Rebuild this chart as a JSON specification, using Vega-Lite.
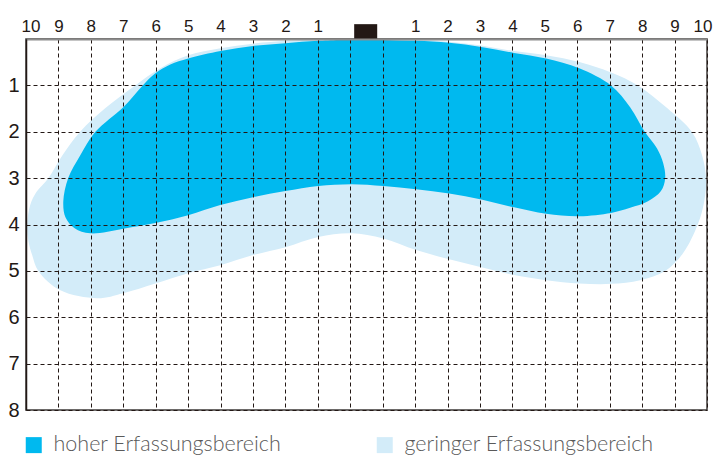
{
  "$schema": "https://vega.github.io/schema/vega-lite/v6.json",
  "width": 681,
  "height": 371,
  "autosize": "none",
  "padding": {"left": 26, "top": 39, "right": 6, "bottom": 46},
  "background": "white",
  "datasets": {
    "gering": [
      {"i":1,"x":10.03,"y":0.0},{"i":2,"x":11.02,"y":0.0},{"i":3,"x":12.03,"y":0.01},{"i":4,"x":13.05,"y":0.06},
      {"i":5,"x":14.04,"y":0.14},{"i":6,"x":15.05,"y":0.26},{"i":7,"x":16.04,"y":0.35},{"i":8,"x":17.09,"y":0.5},
      {"i":9,"x":18.04,"y":0.72},{"i":10,"x":18.87,"y":1.0},{"i":11,"x":19.77,"y":1.49},{"i":12,"x":20.54,"y":2.01},
      {"i":13,"x":20.85,"y":2.51},{"i":14,"x":20.97,"y":3.0},{"i":15,"x":20.92,"y":3.48},{"i":16,"x":20.72,"y":3.99},
      {"i":17,"x":20.26,"y":4.62},{"i":18,"x":19.71,"y":5.0},{"i":19,"x":18.94,"y":5.2},{"i":20,"x":18.04,"y":5.28},
      {"i":21,"x":17.06,"y":5.27},{"i":22,"x":16.04,"y":5.2},{"i":23,"x":15.05,"y":5.09},{"i":24,"x":14.04,"y":4.92},
      {"i":25,"x":13.05,"y":4.75},{"i":26,"x":12.03,"y":4.55},{"i":27,"x":11.02,"y":4.3},{"i":28,"x":10.03,"y":4.19},
      {"i":29,"x":9.01,"y":4.27},{"i":30,"x":8.0,"y":4.49},{"i":31,"x":7.0,"y":4.66},{"i":32,"x":5.99,"y":4.88},
      {"i":33,"x":5.0,"y":5.05},{"i":34,"x":3.99,"y":5.27},{"i":35,"x":3.0,"y":5.48},{"i":36,"x":2.2,"y":5.59},
      {"i":37,"x":1.06,"y":5.42},{"i":38,"x":0.38,"y":5.0},{"i":39,"x":0.19,"y":4.66},{"i":40,"x":0.07,"y":4.34},
      {"i":41,"x":0.04,"y":3.99},{"i":42,"x":0.13,"y":3.58},{"i":43,"x":0.32,"y":3.3},{"i":44,"x":0.69,"y":3.0},
      {"i":45,"x":1.12,"y":2.51},{"i":46,"x":1.67,"y":2.0},{"i":47,"x":2.45,"y":1.49},{"i":48,"x":3.37,"y":1.0},
      {"i":49,"x":4.14,"y":0.63},{"i":50,"x":5.0,"y":0.35},{"i":51,"x":6.0,"y":0.2},{"i":52,"x":7.0,"y":0.1},
      {"i":53,"x":8.06,"y":0.04},{"i":54,"x":9.01,"y":0.01},{"i":55,"x":10.03,"y":0.0}
    ],
    "hoch": [
      {"i":1,"x":10.03,"y":0.01},{"i":2,"x":11.02,"y":0.02},{"i":3,"x":12.03,"y":0.04},{"i":4,"x":13.05,"y":0.08},
      {"i":5,"x":14.04,"y":0.17},{"i":6,"x":15.05,"y":0.3},{"i":7,"x":16.04,"y":0.42},{"i":8,"x":17.06,"y":0.63},
      {"i":9,"x":18.04,"y":1.0},{"i":10,"x":18.63,"y":1.47},{"i":11,"x":19.09,"y":2.01},{"i":12,"x":19.46,"y":2.36},
      {"i":13,"x":19.65,"y":2.68},{"i":14,"x":19.71,"y":3.0},{"i":15,"x":19.58,"y":3.28},{"i":16,"x":19.18,"y":3.5},
      {"i":17,"x":18.63,"y":3.64},{"i":18,"x":18.04,"y":3.75},{"i":19,"x":17.06,"y":3.82},{"i":20,"x":16.04,"y":3.77},
      {"i":21,"x":15.05,"y":3.63},{"i":22,"x":14.04,"y":3.46},{"i":23,"x":13.05,"y":3.33},{"i":24,"x":12.03,"y":3.24},
      {"i":25,"x":11.02,"y":3.17},{"i":26,"x":10.03,"y":3.13},{"i":27,"x":9.01,"y":3.17},{"i":28,"x":8.0,"y":3.28},
      {"i":29,"x":7.0,"y":3.41},{"i":30,"x":5.99,"y":3.58},{"i":31,"x":5.0,"y":3.8},{"i":32,"x":3.99,"y":3.97},
      {"i":33,"x":3.0,"y":4.09},{"i":34,"x":1.98,"y":4.19},{"i":35,"x":1.5,"y":4.08},{"i":36,"x":1.22,"y":3.85},
      {"i":37,"x":1.15,"y":3.5},{"i":38,"x":1.3,"y":3.0},{"i":39,"x":1.67,"y":2.51},{"i":40,"x":2.14,"y":2.0},
      {"i":41,"x":3.0,"y":1.47},{"i":42,"x":3.6,"y":1.0},{"i":43,"x":3.99,"y":0.74},{"i":44,"x":4.45,"y":0.55},
      {"i":45,"x":5.0,"y":0.42},{"i":46,"x":6.0,"y":0.26},{"i":47,"x":7.0,"y":0.15},{"i":48,"x":8.0,"y":0.09},
      {"i":49,"x":9.01,"y":0.04},{"i":50,"x":10.03,"y":0.01}
    ],
    "sensor": [{"x1": 10.12, "x2": 10.83, "y1": -0.32, "y2": 0}]
  },
  "layer": [
    {
      "data": {"name": "gering"},
      "transform": [{"calculate": "'geringer Erfassungsbereich'", "as": "zone"}],
      "mark": {"type": "line", "interpolate": "catmull-rom", "filled": true, "strokeWidth": 0},
      "encoding": {
        "x": {"field": "x", "type": "quantitative", "scale": {"domain": [0, 21], "nice": false, "zero": false},
          "axis": {"orient": "top", "values": [0,1,2,3,4,5,6,7,8,9,10,11,12,13,14,15,16,17,18,19,20,21],
            "labelExpr": "datum.value <= 9 ? '' + (10 - datum.value) : (datum.value >= 12 ? '' + (datum.value - 11) : '')",
            "title": null, "ticks": false, "labelFlush": true, "labelFlushOffset": 5, "labelOverlap": false, "labelSeparation": 0, "labelBound": false,
            "labelFont": "Liberation Sans", "labelFontSize": 17, "labelColor": "#231815",
            "labelBaseline": "alphabetic", "labelPadding": 8,
            "domainColor": "#8c8c8c", "domainWidth": 2,
            "grid": true, "gridDash": [4, 3], "gridColor": "#231815", "gridWidth": 1, "zindex": 1}},
        "y": {"field": "y", "type": "quantitative", "scale": {"domain": [0, 8], "nice": false, "zero": false, "reverse": true},
          "axis": {"orient": "left", "values": [0,1,2,3,4,5,6,7,8],
            "labelExpr": "datum.value == 0 ? '' : datum.label",
            "title": null, "ticks": false, "labelFlush": false, "labelOverlap": false,
            "labelFont": "Liberation Sans", "labelFontSize": 20, "labelColor": "#231815", "labelPadding": 7,
            "domainColor": "#231815", "domainWidth": 1.5,
            "grid": true, "gridDash": [4, 3], "gridColor": "#231815", "gridWidth": 1, "zindex": 1}},
        "order": {"field": "i", "type": "quantitative"},
        "color": {"field": "zone", "type": "nominal",
          "scale": {"domain": ["hoher Erfassungsbereich", "geringer Erfassungsbereich"], "range": ["#00b9ef", "#d3ecf9"]},
          "legend": {"orient": "none", "legendX": -3, "legendY": 395, "direction": "horizontal", "title": null,
            "symbolType": "square", "symbolSize": 256, "symbolStrokeWidth": 0, "symbolOpacity": 1,
            "labelFont": "Lato", "labelFontWeight": 300, "labelFontSize": 21.5, "labelColor": "#5a5a5a",
            "labelOffset": 9, "columnPadding": 92, "padding": 0, "labelLimit": 400}}
      }
    },
    {
      "data": {"name": "hoch"},
      "transform": [{"calculate": "'hoher Erfassungsbereich'", "as": "zone"}],
      "mark": {"type": "line", "interpolate": "catmull-rom", "filled": true, "strokeWidth": 0},
      "encoding": {
        "x": {"field": "x", "type": "quantitative",
          "axis": {"orient": "top", "values": [0,1,2,3,4,5,6,7,8,9,10,11,12,13,14,15,16,17,18,19,20,21],
            "labelExpr": "datum.value <= 9 ? '' + (10 - datum.value) : (datum.value >= 12 ? '' + (datum.value - 11) : '')",
            "title": null, "ticks": false, "labelFlush": true, "labelFlushOffset": 5, "labelOverlap": false, "labelSeparation": 0, "labelBound": false,
            "labelFont": "Liberation Sans", "labelFontSize": 17, "labelColor": "#231815",
            "labelBaseline": "alphabetic", "labelPadding": 8,
            "domainColor": "#8c8c8c", "domainWidth": 2,
            "grid": true, "gridDash": [4, 3], "gridColor": "#231815", "gridWidth": 1, "zindex": 1}},
        "y": {"field": "y", "type": "quantitative",
          "axis": {"orient": "left", "values": [0,1,2,3,4,5,6,7,8],
            "labelExpr": "datum.value == 0 ? '' : datum.label",
            "title": null, "ticks": false, "labelFlush": false, "labelOverlap": false,
            "labelFont": "Liberation Sans", "labelFontSize": 20, "labelColor": "#231815", "labelPadding": 7,
            "domainColor": "#231815", "domainWidth": 1.5,
            "grid": true, "gridDash": [4, 3], "gridColor": "#231815", "gridWidth": 1, "zindex": 1}},
        "order": {"field": "i", "type": "quantitative"},
        "color": {"field": "zone", "type": "nominal"}
      }
    },
    {
      "data": {"name": "sensor"},
      "mark": {"type": "rect", "color": "#231815"},
      "encoding": {
        "x": {"field": "x1", "type": "quantitative",
          "axis": {"orient": "top", "values": [0,1,2,3,4,5,6,7,8,9,10,11,12,13,14,15,16,17,18,19,20,21],
            "labelExpr": "datum.value <= 9 ? '' + (10 - datum.value) : (datum.value >= 12 ? '' + (datum.value - 11) : '')",
            "title": null, "ticks": false, "labelFlush": true, "labelFlushOffset": 5, "labelOverlap": false, "labelSeparation": 0, "labelBound": false,
            "labelFont": "Liberation Sans", "labelFontSize": 17, "labelColor": "#231815",
            "labelBaseline": "alphabetic", "labelPadding": 8,
            "domainColor": "#8c8c8c", "domainWidth": 2,
            "grid": true, "gridDash": [4, 3], "gridColor": "#231815", "gridWidth": 1, "zindex": 1}},
        "x2": {"field": "x2"},
        "y": {"field": "y1", "type": "quantitative",
          "axis": {"orient": "left", "values": [0,1,2,3,4,5,6,7,8],
            "labelExpr": "datum.value == 0 ? '' : datum.label",
            "title": null, "ticks": false, "labelFlush": false, "labelOverlap": false,
            "labelFont": "Liberation Sans", "labelFontSize": 20, "labelColor": "#231815", "labelPadding": 7,
            "domainColor": "#231815", "domainWidth": 1.5,
            "grid": true, "gridDash": [4, 3], "gridColor": "#231815", "gridWidth": 1, "zindex": 1}},
        "y2": {"field": "y2"}
      }
    }
  ],
  "config": {
    "view": {"stroke": "#3e3a39", "strokeWidth": 1.5},
    "axis": {"labelOverlap": false}
  }
}
